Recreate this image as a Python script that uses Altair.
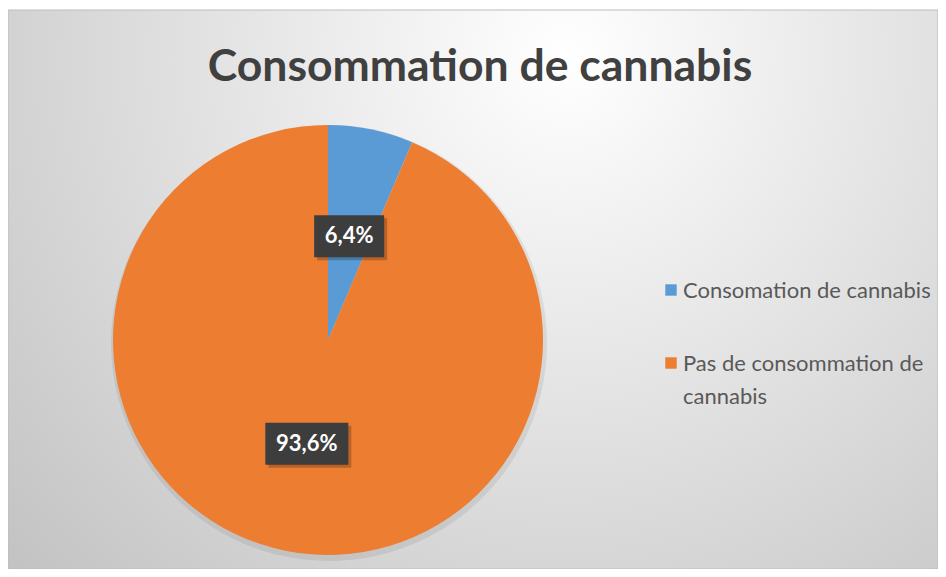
import altair as alt
import pandas as pd

# ---- data ----
titre = "Consommation de cannabis"
categories = ["Consomation de cannabis", "Pas de consommation de cannabis"]
pourcentages = [6.4, 93.6]
legende_lignes = ["Consomation de cannabis", "Pas de consommation de\ncannabis"]
couleurs = ["#5B9BD5", "#ED7D31"]

df = pd.DataFrame({
    "categorie": categories,
    "pct": pourcentages,
    "ordre": list(range(len(categories))),
    "legende": legende_lignes,
})

W, H = 930, 561
CX, CY, R, RL = 320, 332, 215, 106
FONT = "Lato"

color = alt.Color("categorie:N", scale=alt.Scale(domain=categories, range=couleurs), legend=None)

# background panel with radial gradient
fond = alt.Chart(pd.DataFrame({"k": [0]})).mark_rect(
    color=alt.RadialGradient(
        gradient="radial",
        stops=[alt.GradientStop(offset=0, color="#ffffff"),
               alt.GradientStop(offset=1, color="#c2c2c2")],
        x1=0.6, y1=0.25, r1=0, x2=0.6, y2=0.25, r2=0.82,
    ),
    stroke="#bdbdbd", strokeWidth=1,
).encode(x=alt.value(0), x2=alt.value(W), y=alt.value(2), y2=alt.value(H))

base = alt.Chart(df)

ombre_pie = base.mark_arc(radius=R + 3, color="#000000", opacity=0.07).encode(
    theta=alt.Theta("pct:Q", stack=True), order=alt.Order("ordre:Q"),
    x=alt.value(CX + 1), y=alt.value(CY + 3))

pie = base.mark_arc(radius=R).encode(
    theta=alt.Theta("pct:Q", stack=True),
    color=color,
    order=alt.Order("ordre:Q"),
    x=alt.value(CX), y=alt.value(CY),
)

lab = base.transform_window(
    cum="sum(pct)", sort=[alt.SortField("ordre")], frame=[None, 0]
).transform_joinaggregate(total="sum(pct)").transform_calculate(
    mid="(datum.cum - datum.pct/2) / datum.total * 2 * PI",
    lx=f"{CX} + {RL} * sin(datum.mid)",
    ly=f"{CY} - {RL} * cos(datum.mid)",
    txt="replace(format(datum.pct, '.1f'), '.', ',') + '%'",
    hw="length(datum.txt) * 6.5 + 9",
    bx1="datum.lx - datum.hw", bx2="datum.lx + datum.hw",
    by1="datum.ly - 21", by2="datum.ly + 21",
    sx1="datum.bx1 + 3", sx2="datum.bx2 + 3",
    sy1="datum.by1 + 3", sy2="datum.by2 + 3",
)

ombre_box = lab.mark_rect(color="#000000", opacity=0.22).encode(
    x=alt.X("sx1:Q", scale=None), x2="sx2:Q",
    y=alt.Y("sy1:Q", scale=None), y2="sy2:Q")

box = lab.mark_rect(color="#3d3d3d").encode(
    x=alt.X("bx1:Q", scale=None), x2="bx2:Q",
    y=alt.Y("by1:Q", scale=None), y2="by2:Q")

txt = lab.mark_text(font=FONT, fontSize=22, fontWeight="bold", color="#ffffff",
                    align="center", baseline="middle").encode(
    x=alt.X("lx:Q", scale=None), y=alt.Y("ly:Q", scale=None), text="txt:N")

titre_mark = alt.Chart(pd.DataFrame({"t": [titre]})).mark_text(
    font=FONT, fontSize=44.5, fontWeight="bold", color="#404040",
    align="center", baseline="alphabetic").encode(
    x=alt.value(472), y=alt.value(73), text="t:N")

leg = base.transform_calculate(
    sy="282 + datum.ordre * 73",
    ty="290 + datum.ordre * 73",
)
leg_sq = leg.mark_square(size=130, opacity=1).encode(
    x=alt.value(663), y=alt.Y("sy:Q", scale=None), color=color)
leg_txt = leg.mark_text(font=FONT, fontSize=22, color="#595959", align="left",
                        baseline="alphabetic", lineBreak="\n", lineHeight=33).encode(
    x=alt.value(675), y=alt.Y("ty:Q", scale=None), text="legende:N")

chart = alt.layer(fond, ombre_pie, pie, ombre_box, box, txt, titre_mark, leg_sq, leg_txt).properties(
    width=W, height=H, padding=0, autosize=alt.AutoSizeParams(type="none"),
    background="#ffffff",
).configure_view(stroke=None)

chart.save("out.html", embed_options={"renderer": "svg", "actions": False})
